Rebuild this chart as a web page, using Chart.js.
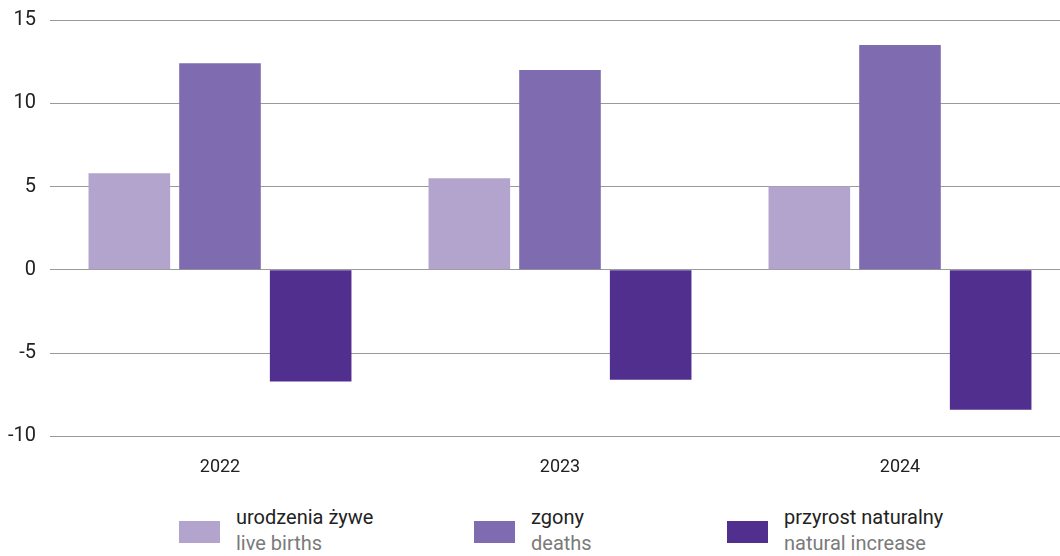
<!DOCTYPE html>
<html>
<head>
<meta charset="utf-8">
<script src="https://cdn.jsdelivr.net/npm/chart.js@4/dist/chart.umd.min.js"></script>
<style>
  html, body { margin: 0; padding: 0; background: #fff; overflow: hidden; }
  #wrap { position: relative; width: 1070px; height: 504px; margin-top: -6px; }
  #legend { position: absolute; top: 500px; left: 0; width: 1060px; height: 56px; font-family: Roboto, sans-serif; }
  .item { position: absolute; top: 0; }
  .box { position: absolute; top: 21px; width: 41px; height: 22px; }
  .txt { position: absolute; left: 57px; top: 4px; white-space: nowrap; font-size: 20px; line-height: 26px; }
  .pl { color: #222; }
  .en { color: #7a7a7a; }
</style>
</head>
<body>
<div id="wrap"><canvas id="chart" width="1070" height="504"></canvas></div>
<div id="legend"></div>
<script>
var years = ['2022', '2023', '2024'];
var births = [5.8, 5.5, 5.0];
var deaths = [12.4, 12.0, 13.5];
var natural = [-6.7, -6.6, -8.4];

var labels_pl = ['urodzenia żywe', 'zgony', 'przyrost naturalny'];
var labels_en = ['live births', 'deaths', 'natural increase'];
var colors = ['#b3a4cd', '#7f6bb0', '#512f8f'];
var legend_x = [179, 474, 727];

var yTicks = [-10, -5, 0, 5, 10, 15];

var ctx = document.getElementById('chart').getContext('2d');
var myChart = new Chart(ctx, {
    type: 'bar',
    data: {
        labels: years,
        datasets: [
            { label: labels_pl[0], data: births, backgroundColor: colors[0] },
            { label: labels_pl[1], data: deaths, backgroundColor: colors[1] },
            { label: labels_pl[2], data: natural, backgroundColor: colors[2] }
        ]
    },
    options: {
        responsive: false,
        animation: false,
        maintainAspectRatio: false,
        layout: { padding: 0 },
        datasets: {
            bar: { categoryPercentage: 0.8, barPercentage: 0.9 }
        },
        plugins: {
            legend: { display: false },
            tooltip: { enabled: false }
        },
        scales: {
            x: {
                grid: { display: false, drawTicks: false },
                border: { display: false },
                ticks: { color: '#222', font: { family: 'Roboto', size: 18 }, padding: 20 }
            },
            y: {
                min: -10,
                max: 15,
                afterBuildTicks: function(axis) {
                    axis.ticks = yTicks.map(function(v) { return { value: v }; });
                },
                afterFit: function(axis) { axis.width = 50; },
                grid: { color: '#9a9a9a', lineWidth: 1, drawTicks: false },
                border: { display: false },
                ticks: { color: '#222', font: { family: 'Roboto', size: 20 }, padding: 14 }
            }
        }
    }
});

// legend with two lines per item
var legend = document.getElementById('legend');
for (let i = 0; i < labels_pl.length; i++) {
    var item = document.createElement('div');
    item.className = 'item';
    item.style.left = legend_x[i] + 'px';
    item.innerHTML = '<div class="box" style="background:' + colors[i] + '"></div>' +
        '<div class="txt"><div class="pl">' + labels_pl[i] + '</div><div class="en">' + labels_en[i] + '</div></div>';
    legend.appendChild(item);
}
</script>
</body>
</html>
